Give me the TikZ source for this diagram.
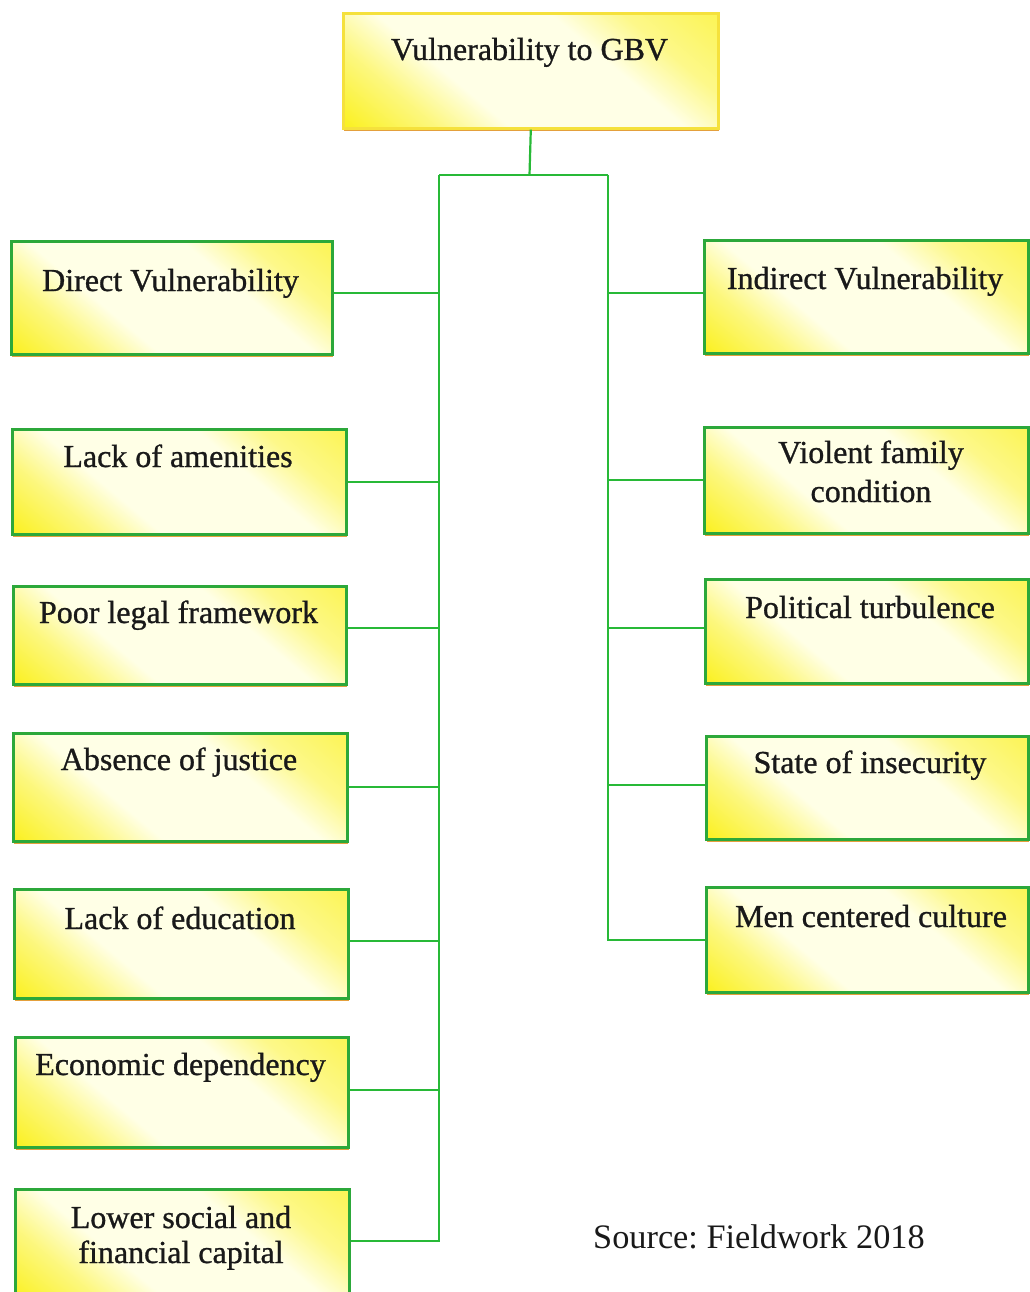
\documentclass[tikz,border=0pt]{standalone}
\usepackage{fontspec}
\setmainfont{Liberation Serif}
\usetikzlibrary{shadows}

\definecolor{boxgreen}{RGB}{44,168,58}
\definecolor{linkgreen}{RGB}{40,185,55}
\definecolor{boxyellow}{RGB}{250,240,25}
\definecolor{paleyellow}{RGB}{255,255,230}
\definecolor{topborder}{RGB}{245,225,60}
\definecolor{shadoworange}{RGB}{225,150,40}

% yellow in the corners, pale across the middle
\pgfdeclareverticalshading{panelshade}{100bp}{%
  color(0bp)=(boxyellow); color(14bp)=(boxyellow);
  color(28bp)=(boxyellow!50!paleyellow); color(38bp)=(paleyellow);
  color(62bp)=(paleyellow); color(72bp)=(boxyellow!45!paleyellow);
  color(100bp)=(boxyellow)}

\tikzset{
  panel/.style={
    draw=boxgreen, line width=2.6pt, rectangle, inner sep=0pt,
    shade, shading=panelshade, shading angle=-40,
    drop shadow={shadow xshift=1pt, shadow yshift=-3pt,
                 fill=shadoworange, opacity=0.9}
  },
  headpanel/.style={panel, draw=topborder},
  caption/.style={inner sep=0pt,
                  font=\fontsize{32}{37}\selectfont\addfontfeature{FakeBold=0.9},
                  align=center, text=black!90},
  link/.style={draw=linkgreen, line width=2.2pt}
}

\newcommand{\panelbox}[6]{%
  % name, x1, y1, x2, y2, style
  \node[#6, minimum width=#4-#2, minimum height=#5-#3, anchor=north west]
    (#1) at (#2,#3) {};}

\begin{document}
\frenchspacing
\begin{tikzpicture}[x=1pt, y=-1pt]
  \useasboundingbox (0,0) rectangle (1029,1292);

  % root
  \panelbox{root}{342}{12}{717}{127}{headpanel}
  \node[caption, anchor=base] (roott) at (529.5,60) {Vulnerability to GBV};

  % left column
  \panelbox{dv}{10}{240}{331}{353}{panel}
  \panelbox{la}{11}{428}{345}{533}{panel}
  \panelbox{pl}{12}{585}{345}{683}{panel}
  \panelbox{aj}{12}{732}{346}{840}{panel}
  \panelbox{le}{13}{888}{347}{997}{panel}
  \panelbox{ed}{14}{1036}{347}{1146}{panel}
  \panelbox{ls}{14}{1188}{348}{1300}{panel}

  % captions are placed by the baseline of their last line
  \node[caption, anchor=base] (dvt) at (170.5,291) {Direct Vulnerability};
  \node[caption, anchor=base] (lat) at (178,467) {Lack of amenities};
  \node[caption, anchor=base] (plt) at (178.5,623) {Poor legal framework};
  \node[caption, anchor=base] (ajt) at (179,770) {Absence of justice};
  \node[caption, anchor=base] (let) at (180,929) {Lack of education};
  \node[caption, anchor=base] (edt) at (180.5,1075) {Economic dependency};
  \node[caption, anchor=base, font=\fontsize{32}{35}\selectfont\addfontfeature{FakeBold=0.9}]
    (lst) at (181,1263) {Lower social and\\financial capital};

  % right column
  \panelbox{iv}{703}{239}{1027}{352}{panel}
  \panelbox{vf}{703}{426}{1027}{532}{panel}
  \panelbox{pt}{704}{578}{1027}{682}{panel}
  \panelbox{si}{705}{735}{1027}{838}{panel}
  \panelbox{mc}{705}{886}{1027}{991}{panel}

  \node[caption, anchor=base] (ivt) at (865,289) {Indirect Vulnerability};
  \node[caption, anchor=base, font=\fontsize{32}{39}\selectfont\addfontfeature{FakeBold=0.9}]
    (vft) at (871,502) {Violent family\\condition};
  \node[caption, anchor=base] (ptt) at (870,618) {Political turbulence};
  \node[caption, anchor=base] (sit) at (870,773) {State of insecurity};
  \node[caption, anchor=base] (mct) at (871,927) {Men centered culture};

  % trunk
  \coordinate (jc) at (529.5,175);
  \coordinate (jl) at (439,175);
  \coordinate (jr) at (608,175);
  \draw[link] (root.south) -- (jc);
  \draw[link] (jl) -- (jr);
  \draw[link] (jl) |- ([yshift=4pt]ls.east);
  \draw[link] (jr) |- (mc.west);

  % branches to the left
  \foreach \b/\dy in {dv/4.5, la/0, pl/7, aj/0, le/2.5, ed/2} {
    \draw[link] ([yshift=\dy pt]\b.east) -- ([yshift=\dy pt]\b.east -| jl);
  }
  % branches to the right
  \foreach \b/\dy in {iv/3.5, vf/0, pt/3, si/2.5} {
    \draw[link] ([yshift=\dy pt]\b.west) -- ([yshift=\dy pt]\b.west -| jr);
  }

  % source note
  \node[inner sep=0pt, anchor=base west, font=\fontsize{34.3}{40}\selectfont,
        text=black!90] (src) at (593,1248) {Source: Fieldwork 2018};
\end{tikzpicture}
\end{document}
